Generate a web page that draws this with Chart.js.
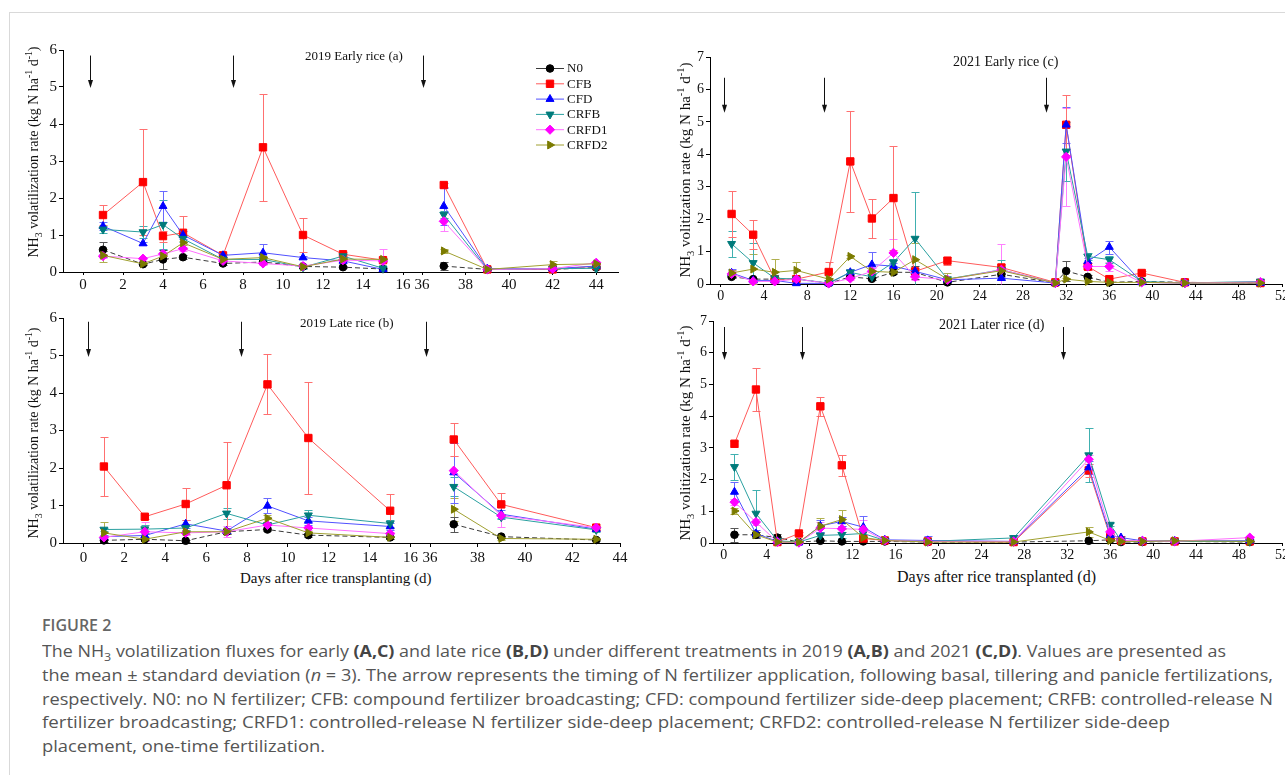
<!DOCTYPE html>
<html><head><meta charset="utf-8">
<script src="https://cdn.jsdelivr.net/npm/chart.js@4.4.1/dist/chart.umd.min.js"></script>
<style>
html,body{margin:0;padding:0;background:#fff;}
body{width:1285px;height:775px;overflow:hidden;position:relative;}
.frame{position:absolute;left:9px;top:12px;width:1400px;height:900px;border-left:1px solid #d9d9d9;border-top:1px solid #d9d9d9;}
canvas{position:absolute;}
.t{position:absolute;font-family:"Liberation Serif","Times New Roman",serif;color:#111;white-space:nowrap;line-height:1;}
.yt{position:absolute;font-family:"Liberation Serif","Times New Roman",serif;color:#111;white-space:nowrap;line-height:1;transform:translate(-50%,-50%) rotate(-90deg);}
.yt sub,.yt sup{font-size:70%;}
.cap{position:absolute;left:42px;font-family:"Open Sans","Noto Sans",sans-serif;font-size:16px;color:#555;white-space:nowrap;line-height:22px;transform-origin:0 50%;}
.cap b{font-weight:700;color:#444;}
.cap sub{font-size:70%;line-height:0;}
.fig{position:absolute;left:42px;top:614px;font-family:"Open Sans","Noto Sans",sans-serif;font-weight:600;font-size:16px;color:#666;line-height:22px;}
</style></head>
<body>
<div class="frame"></div>

<canvas id="cA1"></canvas><canvas id="cA2"></canvas>
<canvas id="cB1"></canvas><canvas id="cB2"></canvas>
<canvas id="cC"></canvas><canvas id="cD"></canvas>

<div class="t" style="left:305px;top:49px;font-size:13px;">2019 Early rice (a)</div>
<div class="t" style="left:300px;top:316px;font-size:13px;">2019 Late rice (b)</div>
<div class="t" style="left:953px;top:55px;font-size:14px;">2021 Early rice (c)</div>
<div class="t" style="left:939px;top:318px;font-size:14px;">2021 Later rice (d)</div>

<div class="yt" style="left:34px;top:152px;font-size:14px;">NH<sub>3</sub> volatilization rate (kg N ha<sup>-1</sup> d<sup>-1</sup>)</div>
<div class="yt" style="left:34px;top:433px;font-size:14px;">NH<sub>3</sub> volatilization rate (kg N ha<sup>-1</sup> d<sup>-1</sup>)</div>
<div class="yt" style="left:686px;top:170px;font-size:15px;">NH<sub>3</sub> volitization rate (kg N ha<sup>-1</sup> d<sup>-1</sup>)</div>
<div class="yt" style="left:686px;top:433px;font-size:15px;">NH<sub>3</sub> volitization rate (kg N ha<sup>-1</sup> d<sup>-1</sup>)</div>

<div class="t" style="left:240px;top:571px;font-size:15px;">Days after rice transplanting (d)</div>
<div class="t" style="left:897px;top:569px;font-size:16px;">Days after rice transplanted (d)</div>

<div class="fig">FIGURE 2</div>
<div class="cap" id="l1" data-w="1184" style="top:640px;">The NH<sub>3</sub> volatilization fluxes for early <b>(A,C)</b> and late rice <b>(B,D)</b> under different treatments in 2019 <b>(A,B)</b> and 2021 <b>(C,D)</b>. Values are presented as</div>
<div class="cap" id="l2" data-w="1231" style="top:664px;">the mean ± standard deviation (<i>n</i> = 3). The arrow represents the timing of N fertilizer application, following basal, tillering and panicle fertilizations,</div>
<div class="cap" id="l3" data-w="1231" style="top:688px;">respectively. N0: no N fertilizer; CFB: compound fertilizer broadcasting; CFD: compound fertilizer side-deep placement; CRFB: controlled-release N</div>
<div class="cap" id="l4" data-w="1128" style="top:711px;">fertilizer broadcasting; CRFD1: controlled-release N fertilizer side-deep placement; CRFD2: controlled-release N fertilizer side-deep</div>
<div class="cap" id="l5" data-w="283" style="top:735px;">placement, one-time fertilization.</div>

<script>
// ---------------- DATA ----------------
const series = ["N0","CFB","CFD","CRFB","CRFD1","CRFD2"];

// 2019 Early rice (a)
const daysA = [1,3,4,5,7,9,11,13,15,37,39,42,44];
const A_N0    = [0.60,0.21,0.34,0.40,0.23,0.27,0.15,0.13,0.08,0.16,0.07,0.07,0.12];
const A_CFB   = [1.54,2.43,0.97,1.06,0.45,3.37,1.00,0.48,0.32,2.35,0.07,0.07,0.16];
const A_CFD   = [1.24,0.77,1.78,1.00,0.45,0.52,0.39,0.30,0.07,1.78,0.09,0.09,0.16];
const A_CRFB  = [1.15,1.08,1.28,0.90,0.34,0.34,0.13,0.43,0.10,1.55,0.07,0.09,0.10];
const A_CRFD1 = [0.43,0.36,0.49,0.63,0.30,0.23,0.16,0.32,0.30,1.37,0.07,0.09,0.25];
const A_CRFD2 = [0.45,0.22,0.43,0.79,0.34,0.39,0.14,0.35,0.34,0.57,0.07,0.20,0.22];
const A_N0_sd    = [0.20,0.03,0.25,0.05,0.05,0.05,0.03,0.03,0.02,0.10,0.02,0.02,0.03];
const A_CFB_sd   = [0.26,1.44,0.15,0.45,0.05,1.45,0.47,0.05,0.05,0.05,0.02,0.02,0.05];
const A_CFD_sd   = [0.10,0.05,0.42,0.10,0.05,0.25,0.05,0.05,0.03,0.50,0.02,0.02,0.05];
const A_CRFB_sd  = [0.10,0.15,0.67,0.10,0.05,0.05,0.05,0.05,0.03,0.10,0.02,0.02,0.03];
const A_CRFD1_sd = [0.05,0.05,0.10,0.05,0.05,0.05,0.03,0.05,0.33,0.25,0.02,0.02,0.05];
const A_CRFD2_sd = [0.17,0.03,0.05,0.05,0.05,0.05,0.03,0.05,0.05,0.05,0.02,0.10,0.05];

// 2019 Late rice (b)
const daysB = [1,3,5,7,9,11,15,37,39,43];
const B_N0    = [0.07,0.10,0.06,0.30,0.36,0.21,0.15,0.50,0.17,0.08];
const B_CFB   = [2.04,0.70,1.04,1.54,4.23,2.80,0.86,2.76,1.03,0.41];
const B_CFD   = [0.17,0.20,0.51,0.32,0.99,0.59,0.44,1.88,0.77,0.37];
const B_CRFB  = [0.36,0.37,0.40,0.79,0.48,0.74,0.52,1.50,0.69,0.35];
const B_CRFD1 = [0.15,0.30,0.27,0.30,0.48,0.40,0.25,1.93,0.73,0.41];
const B_CRFD2 = [0.27,0.10,0.30,0.30,0.66,0.27,0.15,0.90,0.12,0.10];
const B_N0_sd    = [0.03,0.03,0.03,0.05,0.05,0.05,0.03,0.20,0.03,0.02];
const B_CFB_sd   = [0.78,0.05,0.43,1.15,0.80,1.50,0.45,0.44,0.30,0.05];
const B_CFD_sd   = [0.05,0.05,0.10,0.05,0.20,0.10,0.10,0.80,0.10,0.05];
const B_CRFB_sd  = [0.05,0.10,0.05,0.15,0.05,0.15,0.10,0.25,0.05,0.05];
const B_CRFD1_sd = [0.05,0.25,0.05,0.15,0.05,0.05,0.05,0.40,0.30,0.05];
const B_CRFD2_sd = [0.30,0.03,0.05,0.05,0.10,0.05,0.03,0.30,0.03,0.03];

// 2021 Early rice (c)
const daysC = [1,3,5,7,10,12,14,16,18,21,26,31,32,34,36,39,43,50];
const C_N0    = [0.22,0.15,0.15,0.15,0.02,0.22,0.16,0.36,0.36,0.05,0.30,0.03,0.40,0.22,0.05,0.08,0.05,0.03];
const C_CFB   = [2.16,1.52,0.15,0.15,0.37,3.78,2.02,2.65,0.39,0.72,0.51,0.05,4.91,0.54,0.15,0.34,0.05,0.03];
const C_CFD   = [0.34,0.11,0.11,0.02,0.02,0.36,0.60,0.55,0.39,0.13,0.18,0.03,4.91,0.70,1.14,0.05,0.03,0.03];
const C_CRFB  = [1.24,0.65,0.18,0.15,0.03,0.36,0.22,0.67,1.40,0.15,0.44,0.03,4.09,0.85,0.75,0.08,0.03,0.08];
const C_CRFD1 = [0.31,0.08,0.08,0.15,0.02,0.17,0.39,0.96,0.22,0.13,0.44,0.03,3.92,0.54,0.54,0.05,0.03,0.06];
const C_CRFD2 = [0.34,0.46,0.36,0.42,0.15,0.85,0.39,0.36,0.75,0.15,0.41,0.03,0.15,0.08,0.05,0.05,0.03,0.03];
const C_N0_sd    = [0.05,0.05,0.03,0.03,0.02,0.05,0.03,0.05,0.20,0.02,0.05,0.02,0.30,0.05,0.02,0.02,0.02,0.02];
const C_CFB_sd   = [0.72,0.44,0.05,0.05,0.30,1.55,0.60,1.60,0.05,0.12,0.10,0.02,0.93,0.10,0.05,0.05,0.02,0.02];
const C_CFD_sd   = [0.12,0.05,0.05,0.02,0.02,0.10,0.38,0.10,0.10,0.05,0.05,0.02,0.55,0.10,0.20,0.02,0.02,0.02];
const C_CRFB_sd  = [0.40,0.60,0.05,0.05,0.02,0.10,0.10,0.10,1.45,0.05,0.30,0.02,0.90,0.10,0.10,0.02,0.02,0.02];
const C_CRFD1_sd = [0.10,0.05,0.05,0.05,0.02,0.05,0.10,0.44,0.10,0.05,0.80,0.02,1.50,0.10,0.15,0.02,0.02,0.02];
const C_CRFD2_sd = [0.10,0.45,0.40,0.27,0.05,0.05,0.05,0.05,0.50,0.20,0.10,0.02,0.05,0.03,0.02,0.02,0.02,0.02];

// 2021 Later rice (d)
const daysD = [1,3,5,7,9,11,13,15,19,27,34,36,37,39,42,49];
const D_N0    = [0.26,0.26,0.17,0.03,0.07,0.05,0.05,0.05,0.03,0.03,0.07,0.10,0.03,0.03,0.05,0.03];
const D_CFB   = [3.13,4.84,0.03,0.30,4.31,2.45,0.14,0.08,0.05,0.03,2.29,0.19,0.08,0.05,0.05,0.05];
const D_CFD   = [1.61,0.30,0.05,0.01,0.54,0.68,0.50,0.10,0.08,0.05,2.38,0.24,0.17,0.07,0.07,0.07];
const D_CRFB  = [2.40,0.93,0.07,0.03,0.24,0.26,0.30,0.08,0.05,0.16,2.77,0.58,0.08,0.05,0.05,0.05];
const D_CRFD1 = [1.29,0.66,0.03,0.01,0.47,0.45,0.43,0.08,0.05,0.05,2.64,0.35,0.08,0.07,0.05,0.17];
const D_CRFD2 = [1.01,0.26,0.03,0.03,0.53,0.74,0.17,0.08,0.03,0.03,0.35,0.08,0.05,0.05,0.07,0.05];
const D_N0_sd    = [0.22,0.10,0.10,0.02,0.02,0.02,0.02,0.02,0.02,0.02,0.03,0.03,0.02,0.02,0.02,0.02];
const D_CFB_sd   = [0.10,0.68,0.02,0.05,0.29,0.33,0.05,0.03,0.02,0.02,0.20,0.05,0.02,0.02,0.02,0.02];
const D_CFD_sd   = [0.30,0.10,0.02,0.02,0.20,0.15,0.35,0.05,0.15,0.02,0.20,0.05,0.05,0.02,0.02,0.02];
const D_CRFB_sd  = [0.40,0.73,0.02,0.02,0.10,0.10,0.10,0.03,0.02,0.10,0.85,0.05,0.02,0.02,0.02,0.02];
const D_CRFD1_sd = [0.10,0.10,0.02,0.02,0.20,0.10,0.30,0.03,0.02,0.02,0.15,0.05,0.02,0.02,0.02,0.05];
const D_CRFD2_sd = [0.10,0.10,0.02,0.02,0.25,0.30,0.05,0.03,0.02,0.02,0.15,0.03,0.02,0.02,0.02,0.02];

// tick labels
const xTicks2019Left  = [0,2,4,6,8,10,12,14,16];
const xTicks2019Right = [36,38,40,42,44];
const xTicks2021      = [0,4,8,12,16,20,24,28,32,36,40,44,48,52];
const yTicks2019 = [0,1,2,3,4,5,6];
const yTicks2021 = [0,1,2,3,4,5,6,7];

// fertilizer application arrows (day)
const arrowsA = [0.35, 7.5, 36.05];
const arrowsB = [0.2, 7.7, 16.75];
const arrowsC = [0.3, 9.6, 30.1];
const arrowsD = [0.0, 7.3, 31.6];

// ---------------- STYLE ----------------
const SERIF = '"Liberation Serif","Times New Roman",serif';
const STYLE = {
  N0:    {mark:'#000000', line:'#3a3a3a', err:'#555555', shape:'circle',   rot:0,   r:3.8, dash:[5,3]},
  CFB:   {mark:'#ff0000', line:'#ff5a5a', err:'#ff7070', shape:'rect',     rot:0,   r:5.2, dash:[]},
  CFD:   {mark:'#0000ff', line:'#5050ff', err:'#6a6aff', shape:'triangle', rot:0,   r:4.6, dash:[]},
  CRFB:  {mark:'#007b7b', line:'#2aa0a0', err:'#40b0b0', shape:'triangle', rot:180, r:4.6, dash:[]},
  CRFD1: {mark:'#ff00ff', line:'#ff70ff', err:'#ff80ff', shape:'rectRot',  rot:0,   r:4.6, dash:[]},
  CRFD2: {mark:'#7b7b00', line:'#a0a030', err:'#b0b050', shape:'triangle', rot:90,  r:4.6, dash:[]}
};

const valsA = [A_N0,A_CFB,A_CFD,A_CRFB,A_CRFD1,A_CRFD2];
const sdA   = [A_N0_sd,A_CFB_sd,A_CFD_sd,A_CRFB_sd,A_CRFD1_sd,A_CRFD2_sd];
const valsB = [B_N0,B_CFB,B_CFD,B_CRFB,B_CRFD1,B_CRFD2];
const sdB   = [B_N0_sd,B_CFB_sd,B_CFD_sd,B_CRFB_sd,B_CRFD1_sd,B_CRFD2_sd];
const valsC = [C_N0,C_CFB,C_CFD,C_CRFB,C_CRFD1,C_CRFD2];
const sdC   = [C_N0_sd,C_CFB_sd,C_CFD_sd,C_CRFB_sd,C_CRFD1_sd,C_CRFD2_sd];
const valsD = [D_N0,D_CFB,D_CFD,D_CRFB,D_CRFD1,D_CRFD2];
const sdD   = [D_N0_sd,D_CFB_sd,D_CFD_sd,D_CRFB_sd,D_CRFD1_sd,D_CRFD2_sd];

function buildDatasets(days, vals, sds, keep){
  const out = series.map((name,k)=>{
    const st = STYLE[name];
    const pts=[], errs=[];
    days.forEach((d,i)=>{ if(keep(d)){ pts.push({x:d,y:vals[k][i]}); errs.push(sds[k][i]); } });
    return {label:name, data:pts, errs, errColor:st.err,
      borderColor:st.line, backgroundColor:st.mark, pointBackgroundColor:st.mark, pointBorderColor:st.mark,
      pointStyle:st.shape, rotation:st.rot, pointRadius:st.r, pointHoverRadius:st.r, pointBorderWidth:1,
      borderWidth:1, borderDash:st.dash, tension:0, clip:false, fill:false};
  });
  return out.reverse(); // N0 drawn last-but... keep colored markers on top
}

const errPlugin = {
  id:'errbars',
  beforeDatasetsDraw(chart){
    const ctx=chart.ctx, ys=chart.scales.y;
    chart.data.datasets.forEach((ds,di)=>{
      const meta=chart.getDatasetMeta(di);
      ctx.save(); ctx.strokeStyle=ds.errColor; ctx.lineWidth=1; ctx.setLineDash([]);
      meta.data.forEach((pt,i)=>{
        const e=ds.errs[i]; if(!e) return;
        const v=ds.data[i].y;
        const yt=Math.round(ys.getPixelForValue(v+e))+0.5;
        const yb=Math.round(ys.getPixelForValue(Math.max(0,v-e)))+0.5;
        const x=Math.round(pt.x)+0.5;
        ctx.beginPath();
        ctx.moveTo(x,yt); ctx.lineTo(x,yb);
        ctx.moveTo(x-4,yt); ctx.lineTo(x+4,yt);
        if(v-e>0){ ctx.moveTo(x-4,yb); ctx.lineTo(x+4,yb); }
        ctx.stroke();
      });
      ctx.restore();
    });
  }
};

const arrowPlugin = {
  id:'arrows',
  afterDraw(chart, args, opts){
    if(!opts.xs) return;
    const ctx=chart.ctx, xs=chart.scales.x, ys=chart.scales.y;
    ctx.save(); ctx.strokeStyle='#111'; ctx.fillStyle='#111'; ctx.lineWidth=1;
    opts.xs.forEach(d=>{
      if(d < xs.min-0.5 || d > xs.max+0.5) return;
      const x=Math.round(xs.getPixelForValue(d))+0.5;
      const y1=ys.getPixelForValue(opts.top), y2=ys.getPixelForValue(opts.bottom);
      ctx.beginPath(); ctx.moveTo(x,y1); ctx.lineTo(x,y2-6); ctx.stroke();
      ctx.beginPath(); ctx.moveTo(x-2.5,y2-8); ctx.lineTo(x+2.5,y2-8); ctx.lineTo(x,y2); ctx.closePath(); ctx.fill();
    });
    ctx.restore();
  }
};

const legendPlugin = {
  id:'customLegend',
  afterDraw(chart, args, opts){
    if(!opts.show) return;
    const ctx=chart.ctx, ca=chart.chartArea;
    ctx.save();
    series.forEach((name,k)=>{
      const st=STYLE[name];
      const y=ca.top+opts.dy+k*15.3;
      const x0=ca.left+opts.dx;
      ctx.strokeStyle=st.line; ctx.lineWidth=1; ctx.setLineDash([]);
      ctx.beginPath(); ctx.moveTo(x0,y+0.5); ctx.lineTo(x0+28,y+0.5); ctx.stroke();
      ctx.fillStyle=st.mark; ctx.strokeStyle=st.mark;
      Chart.helpers.drawPoint(ctx,{pointStyle:st.shape,rotation:st.rot,radius:st.r,borderWidth:1},x0+14,y+0.5);
      ctx.fillStyle='#111'; ctx.font='13px '+SERIF; ctx.textBaseline='middle'; ctx.textAlign='left';
      ctx.fillText(name,x0+31,y+1);
    });
    ctx.restore();
  }
};

Chart.register(errPlugin, arrowPlugin, legendPlugin);

function makeChart(id, area, o){
  const padL = o.yShow ? 4 : 12, yW = o.yShow ? 30 : 0, padT = 12, padR = 12, xH = 24;
  const cv=document.getElementById(id);
  const w = area.r-area.l+padL+yW+padR, h = area.b-area.t+padT+xH;
  cv.width=w; cv.height=h;
  cv.style.left=(area.l-padL-yW)+'px'; cv.style.top=(area.t-padT)+'px';
  cv.style.width=w+'px'; cv.style.height=h+'px';
  return new Chart(cv,{
    type:'line',
    data:{datasets:o.datasets},
    options:{
      responsive:false, animation:false, devicePixelRatio:1,
      layout:{padding:{left:padL,top:padT,right:padR,bottom:0}},
      plugins:{legend:{display:false}, tooltip:{enabled:false},
        arrows:{xs:o.arrows, top:o.arrowTop, bottom:o.arrowBottom},
        customLegend:{show:!!o.legend, dx:114, dy:18}},
      scales:{
        x:{type:'linear', min:o.xmin, max:o.xmax,
          afterBuildTicks:s=>{s.ticks=o.xticks.map(v=>({value:v}));},
          afterFit:s=>{s.height=xH;},
          grid:{display:true,drawOnChartArea:false,drawTicks:true,tickLength:o.tl,color:'#000',lineWidth:1},
          border:{display:true,color:'#000',width:1},
          ticks:{font:{family:SERIF,size:o.fs},color:'#111',padding:o.tp,maxRotation:0,autoSkip:false}},
        y:{type:'linear', display:o.yShow, min:0, max:o.ymax,
          afterBuildTicks:s=>{s.ticks=o.yticks.map(v=>({value:v}));},
          afterFit:s=>{s.width=yW;},
          grid:{display:true,drawOnChartArea:false,drawTicks:true,tickLength:4,color:'#000',lineWidth:1},
          border:{display:true,color:'#000',width:1},
          ticks:{font:{family:SERIF,size:o.fs},color:'#111',padding:2}}
      }
    }
  });
}

const left = d=>d<30, right = d=>d>30, all = ()=>true;

makeChart('cA1',{l:63,t:50,r:421,b:272},{yShow:true,xmin:-1,xmax:16.9,ymax:6,xticks:xTicks2019Left,yticks:yTicks2019,fs:15,tl:3,tp:1,
  datasets:buildDatasets(daysA,valsA,sdA,left),arrows:arrowsA,arrowTop:5.85,arrowBottom:4.97});
makeChart('cA2',{l:422,t:50,r:618,b:272},{yShow:false,xmin:36,xmax:45,ymax:6,xticks:xTicks2019Right,yticks:yTicks2019,fs:15,tl:3,tp:1,
  datasets:buildDatasets(daysA,valsA,sdA,right),arrows:arrowsA,arrowTop:5.85,arrowBottom:4.97,legend:true});
makeChart('cB1',{l:63,t:318,r:429,b:543},{yShow:true,xmin:-1,xmax:16.9,ymax:6,xticks:xTicks2019Left,yticks:yTicks2019,fs:15,tl:4,tp:2,
  datasets:buildDatasets(daysB,valsB,sdB,left),arrows:arrowsB,arrowTop:5.9,arrowBottom:4.96});
makeChart('cB2',{l:430,t:318,r:620,b:543},{yShow:false,xmin:36,xmax:44,ymax:6,xticks:xTicks2019Right,yticks:yTicks2019,fs:15,tl:4,tp:2,
  datasets:buildDatasets(daysB,valsB,sdB,right),arrows:[],arrowTop:5.9,arrowBottom:4.96});
makeChart('cC',{l:710,t:57,r:1282,b:284},{yShow:true,xmin:-1,xmax:52,ymax:7,xticks:xTicks2021,yticks:yTicks2021,fs:14,tl:3,tp:1,
  datasets:buildDatasets(daysC,valsC,sdC,all),arrows:arrowsC,arrowTop:6.36,arrowBottom:5.28});
makeChart('cD',{l:713,t:321,r:1282,b:543},{yShow:true,xmin:-1,xmax:52,ymax:7,xticks:xTicks2021,yticks:yTicks2021,fs:14,tl:3,tp:1,
  datasets:buildDatasets(daysD,valsD,sdD,all),arrows:arrowsD,arrowTop:6.81,arrowBottom:5.77});

function fitCaption(){
  document.querySelectorAll('.cap').forEach(el=>{
    el.style.transform='none';
    const w=el.getBoundingClientRect().width;
    const target=+el.dataset.w;
    if(w>0) el.style.transform='scaleX('+(target/w)+')';
  });
}
fitCaption();
if(document.fonts && document.fonts.ready) document.fonts.ready.then(fitCaption);
</script>
</body></html>
